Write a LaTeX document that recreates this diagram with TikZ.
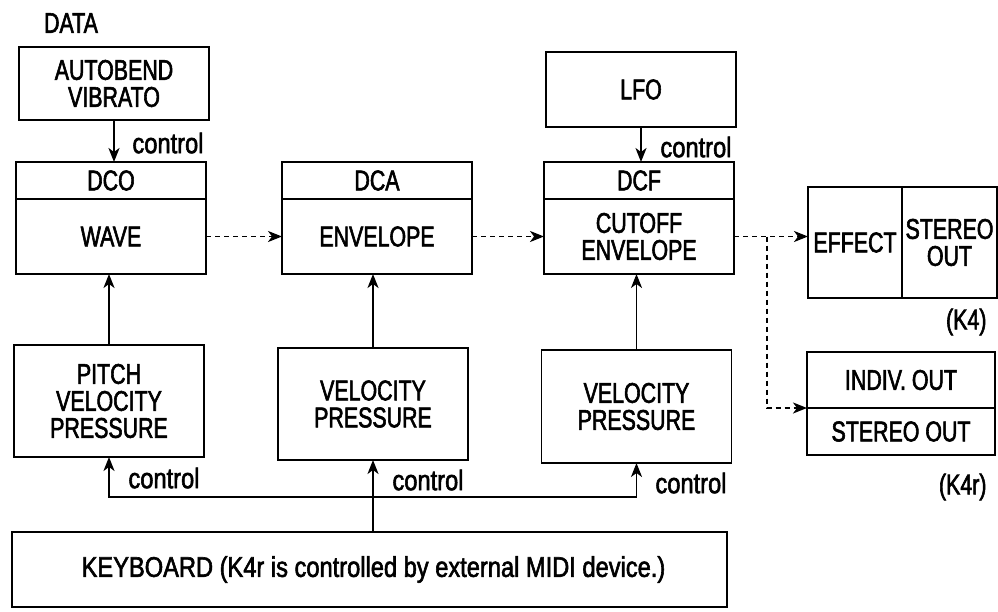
\documentclass[tikz,border=0pt]{standalone}
\usepackage{fontspec}
\setmainfont{Liberation Sans}[FakeStretch=0.75, FakeBold=2]
\newfontfamily\ctrlfont{Liberation Sans}[FakeStretch=0.83, FakeBold=2]
\usetikzlibrary{arrows.meta, positioning}

\begin{document}
\begin{tikzpicture}[x=1pt, y=-1pt,
  font=\fontsize{28.5}{27}\selectfont,
  box/.style={draw, line width=1.8pt, outer sep=0pt, inner sep=2pt,
    minimum width=190pt, align=center},
  flow/.style={line width=1.8pt, -{Stealth[length=14pt, width=11pt, inset=4pt]}},
  signal/.style={flow, dash pattern=on 5pt off 4pt},
  note/.style={font=\ctrlfont\fontsize{28.5}{27}\selectfont}]

\useasboundingbox (0,0) rectangle (998,611);

% fontes de controle
\node (data) at (71,23) {DATA};
\node[box, minimum height=73pt] (autobend) at (114,83.5) {AUTOBEND\\VIBRATO};
\node[box, minimum height=75pt] (lfo) at (641,89.5) {LFO};

% DCO, DCA, DCF
\node[box, minimum height=37pt] (dco) at (111,180.5) {DCO};
\node[box, minimum height=75pt, below=0pt of dco] (wave) {WAVE};
\node[box, minimum height=37pt] (dca) at (377,180.5) {DCA};
\node[box, minimum height=75pt, below=0pt of dca] (envelope) {ENVELOPE};
\node[box, minimum height=37pt] (dcf) at (639,180.5) {DCF};
\node[box, minimum height=75pt, below=0pt of dcf] (cutoff) {CUTOFF\\ENVELOPE};

% saidas
\node[box, minimum width=94pt, minimum height=111pt] (effect) at (855,242.5) {EFFECT};
\node[box, minimum width=95pt, minimum height=111pt, right=0pt of effect] (stereo) {STEREO\\OUT};
\node[anchor=east] (k4) at (990,322) {(K4)};
\node[box, minimum width=188pt, minimum height=56pt] (indiv) at (901,380) {INDIV. OUT};
\node[box, minimum width=188pt, minimum height=47pt, below=0pt of indiv] (stereoout) {STEREO OUT};
\node[anchor=east] (k4r) at (990,487) {(K4r)};

% modulacao
\node[box, minimum height=112pt] (pitch) at (109,401) {PITCH\\VELOCITY\\PRESSURE};
\node[box, minimum height=112pt] (vela) at (373,404) {VELOCITY\\PRESSURE};
\node[box, minimum height=113pt] (velf) at (636.5,406.5) {VELOCITY\\PRESSURE};

% teclado
\node[box, minimum width=715pt, minimum height=75pt, note] (keyboard) at (369.5,569.5)
  {\hspace{8pt}KEYBOARD (K4r is controlled by external MIDI device.)};

% setas de controle
\draw[flow] (autobend.south) -- (autobend.south |- dco.north);
\node[note] (ctrla) at (168,143) {control};
\draw[flow] (lfo.south) -- (lfo.south |- dcf.north);
\node[note] (ctrlb) at (696,147) {control};

% caminho do sinal
\draw[signal] (wave.east) -- (envelope.west);
\draw[signal] (envelope.east) -- (cutoff.west);
\coordinate (split) at (cutoff.east -| 767,0);
\draw[signal] (cutoff.east) -- (cutoff.east -| effect.west);
\draw[signal] (split) |- (stereoout.north west);

% modulacao para cima
\draw[flow] (pitch.north) -- (pitch.north |- wave.south);
\draw[flow] (vela.north) -- (vela.north |- envelope.south);
\draw[flow] (velf.north) -- (velf.north |- cutoff.south);

% teclado para modulacao
\coordinate (bus) at (vela.south |- 0,497);
\draw[flow] (vela.south |- keyboard.north) -- (vela.south);
\draw[flow] (bus) -| (pitch.south);
\draw[flow] (bus) -| (velf.south);
\node[note] (ctrlc) at (164,478) {control};
\node[note] (ctrld) at (428,480) {control};
\node[note] (ctrle) at (691,483) {control};

\end{tikzpicture}
\end{document}
